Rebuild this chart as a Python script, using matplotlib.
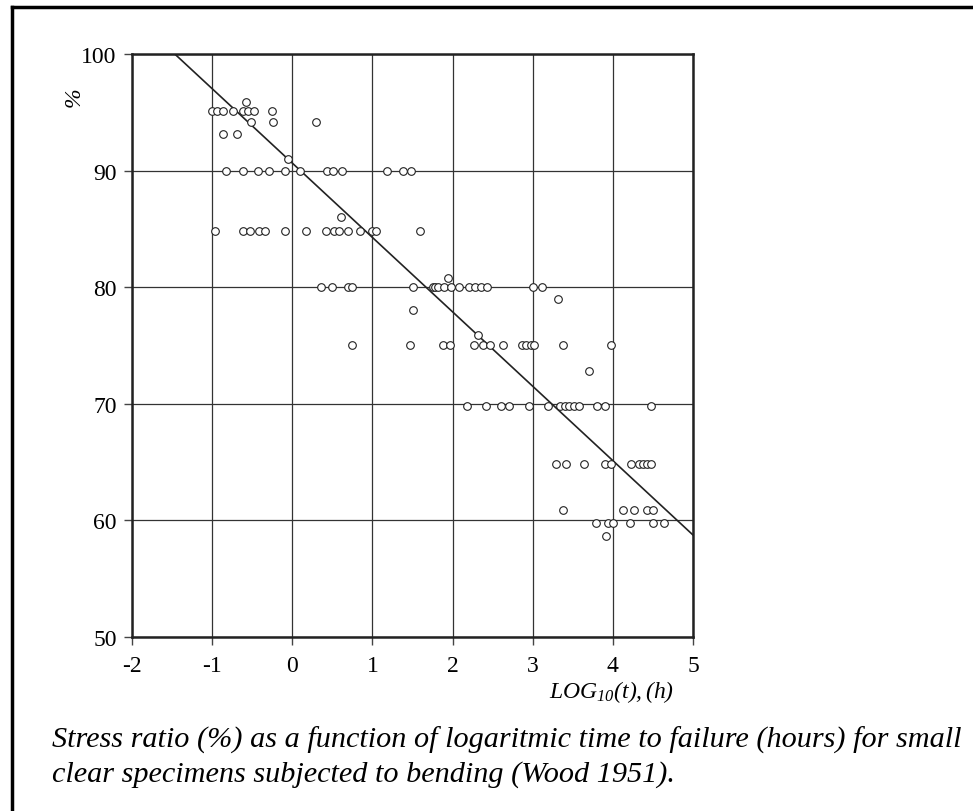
import numpy as np
import matplotlib.pyplot as plt
from matplotlib.lines import Line2D

# log10 time to failure (h) grouped by stress ratio level (%)
x_96 = [-0.58]
x_95 = [-1.00, -0.94, -0.86, -0.74, -0.61, -0.55, -0.48, -0.25]
x_94 = [-0.51, -0.24, 0.30]
x_93 = [-0.87, -0.69]
x_91 = [-0.05]
x_90 = [-0.83, -0.61, -0.43, -0.29, -0.09, 0.09, 0.43, 0.51, 0.62, 1.18, 1.38, 1.48]
x_86 = [0.61]
x_85 = [-0.97, -0.61, -0.525, -0.42, -0.34, -0.09, 0.175, 0.42, 0.52, 0.58, 0.70,
        0.85, 1.00, 1.04, 1.59]
x_81 = [1.94]
x_80 = [0.36, 0.50, 0.70, 0.74, 1.50, 1.75, 1.78, 1.82, 1.89, 1.98, 2.08, 2.21, 2.28,
        2.35, 2.43, 3.00, 3.12]
x_79 = [3.32]
x_78 = [1.50]
x_76 = [2.32]
x_75 = [0.75, 1.47, 1.88, 1.97, 2.27, 2.38, 2.47, 2.63, 2.86, 2.91, 2.98, 3.01, 3.38, 3.97]
x_73 = [3.70]
x_70 = [2.18, 2.42, 2.60, 2.70, 2.95, 3.19, 3.34, 3.40, 3.45, 3.52, 3.58, 3.80, 3.90, 4.47]
x_65 = [3.29, 3.42, 3.64, 3.90, 3.98, 4.23, 4.32, 4.37, 4.43, 4.47]
x_61 = [3.38, 4.12, 4.26, 4.42, 4.50]
x_60 = [3.79, 3.94, 4.00, 4.21, 4.50, 4.64]
x_59 = [3.91]

groups = [(x_96, 95.9), (x_95, 95.1), (x_94, 94.2), (x_93, 93.1), (x_91, 91.0),
          (x_90, 90.0), (x_86, 86.0), (x_85, 84.8), (x_81, 80.8), (x_80, 80.0),
          (x_79, 79.0), (x_78, 78.0), (x_76, 75.9), (x_75, 75.0), (x_73, 72.8),
          (x_70, 69.8), (x_65, 64.8), (x_61, 60.9), (x_60, 59.8), (x_59, 58.7)]

log_t = np.concatenate([np.array(g[0]) for g in groups])
stress = np.concatenate([np.full(len(g[0]), g[1]) for g in groups])

# fitted line: stress = a + b*log_t
fit_a = 90.64
fit_b = -6.38

x_ticks = [-2, -1, 0, 1, 2, 3, 4, 5]
y_ticks = [50, 60, 70, 80, 90, 100]

serif = 'Liberation Serif'
plt.rcParams['mathtext.fontset'] = 'custom'
plt.rcParams['mathtext.it'] = 'Liberation Serif:italic'
plt.rcParams['mathtext.rm'] = 'Liberation Serif:italic'

fig = plt.figure(figsize=(9.73, 8.12), dpi=100)
ax = fig.add_axes([0.1357, 0.2143, 0.5766, 0.718])

ax.set_xlim(-2, 5)
ax.set_ylim(50, 100)
ax.set_xticks(x_ticks)
ax.set_yticks(y_ticks)
ax.set_xticklabels([str(v) for v in x_ticks], fontfamily=serif, fontsize=17)
ax.set_yticklabels([str(v) for v in y_ticks], fontfamily=serif, fontsize=17)
ax.tick_params(direction='out', length=6, width=1, color='#444444')
ax.tick_params(axis='x', pad=7)
ax.tick_params(axis='y', pad=5)
ax.grid(True, color='#333333', linewidth=0.9)
ax.set_axisbelow(True)
for s in ax.spines.values():
    s.set_linewidth(1.8)
    s.set_color('#222222')

xs = np.array([-2.0, 5.0])
ax.plot(xs, fit_a + fit_b * xs, color='#222222', linewidth=1.2, zorder=3)

ax.plot(log_t, stress, linestyle='none', marker='o', markersize=5.5,
        markerfacecolor='white', markeredgecolor='#222222', markeredgewidth=0.8,
        zorder=4)

fig.text(74 / 973, 1 - 97 / 812, '%', rotation=90, fontfamily=serif,
         fontstyle='italic', fontsize=17, ha='center', va='center')
fig.text(612 / 973, 1 - 692 / 812, r'$LOG_{10}(t), (h)$',
         fontsize=17, ha='center', va='center')

fig.text(52 / 973, 1 - 740 / 812,
         'Stress ratio (%) as a function of logaritmic time to failure (hours) for small',
         fontfamily=serif, fontstyle='italic', fontsize=21.8, ha='left', va='center')
fig.text(52 / 973, 1 - 775 / 812,
         'clear specimens subjected to bending (Wood 1951).',
         fontfamily=serif, fontstyle='italic', fontsize=21.8, ha='left', va='center')

# frame around the figure (left and top edges visible)
fig.add_artist(Line2D([12 / 973, 12 / 973], [0, 1 - 8 / 812], transform=fig.transFigure,
                      color='black', linewidth=2.5))
fig.add_artist(Line2D([12 / 973, 1], [1 - 8 / 812, 1 - 8 / 812], transform=fig.transFigure,
                      color='black', linewidth=2.5))

fig.savefig('out.png', dpi=100)
